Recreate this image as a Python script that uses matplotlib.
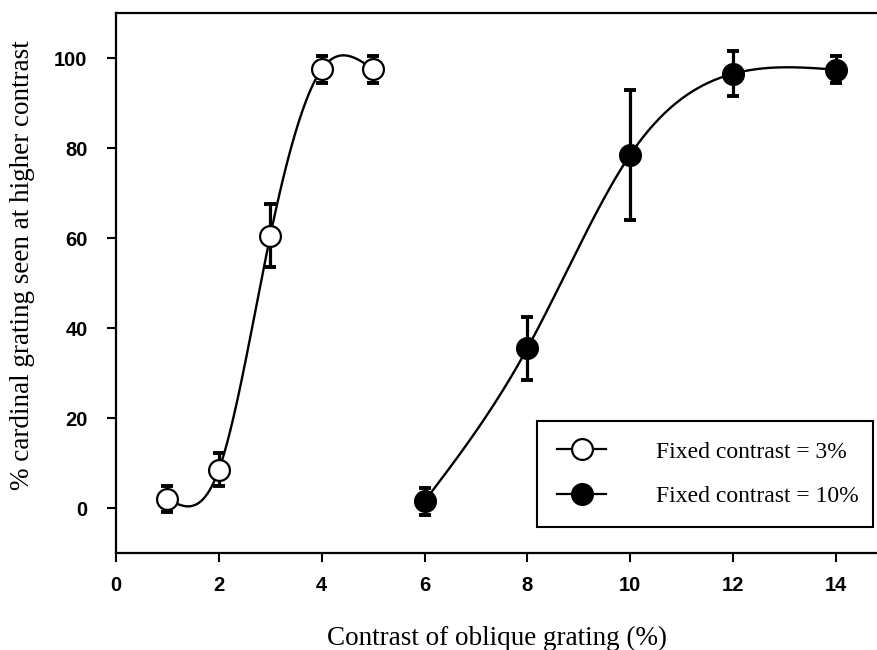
import numpy as np
import matplotlib.pyplot as plt
from matplotlib.lines import Line2D

# Data
x_low = [1, 2, 3, 4, 5]
y_low = [2.0, 8.5, 60.5, 97.5, 97.5]
err_low = [2.8, 3.7, 7.0, 3.0, 3.0]

x_high = [6, 8, 10, 12, 14]
y_high = [1.5, 35.5, 78.5, 96.5, 97.4]
err_high = [3.0, 7.0, 14.5, 5.0, 3.0]

labels = ["Fixed contrast = 3%", "Fixed contrast = 10%"]
x_ticks = [0, 2, 4, 6, 8, 10, 12, 14]
y_ticks = [0, 20, 40, 60, 80, 100]


def natural_spline(x, y, n=300):
    # smooth curve through the points, like the plotting package's spline
    x = np.asarray(x, float)
    y = np.asarray(y, float)
    k = len(x)
    h = np.diff(x)
    A = np.zeros((k, k))
    b = np.zeros(k)
    A[0, 0] = A[-1, -1] = 1
    for i in range(1, k - 1):
        A[i, i - 1] = h[i - 1]
        A[i, i] = 2 * (h[i - 1] + h[i])
        A[i, i + 1] = h[i]
        b[i] = 6 * ((y[i + 1] - y[i]) / h[i] - (y[i] - y[i - 1]) / h[i - 1])
    m = np.linalg.solve(A, b)
    xs = np.linspace(x[0], x[-1], n)
    idx = np.clip(np.searchsorted(x, xs) - 1, 0, k - 2)
    x0, x1 = x[idx], x[idx + 1]
    hh = x1 - x0
    t0 = x1 - xs
    t1 = xs - x0
    ys = (m[idx] * t0**3 / (6 * hh) + m[idx + 1] * t1**3 / (6 * hh)
          + (y[idx] / hh - m[idx] * hh / 6) * t0
          + (y[idx + 1] / hh - m[idx + 1] * hh / 6) * t1)
    return xs, ys


fig = plt.figure(figsize=(8.77, 6.5), dpi=100)
ax = fig.add_axes([0.1323, 0.1492, 0.8677, 0.8308])

for xs, ys, es, face in [(x_low, y_low, err_low, "white"),
                         (x_high, y_high, err_high, "black")]:
    cx, cy = natural_spline(xs, ys)
    ax.plot(cx, cy, color="black", lw=1.7, zorder=2)
    ax.errorbar(xs, ys, yerr=es, fmt="none", ecolor="black", elinewidth=2.3,
                capsize=4, capthick=2.8, zorder=3)
    ax.plot(xs, ys, "o", ms=15, mfc=face, mec="black", mew=1.6, zorder=4)

ax.set_xlim(0, 14.8)
ax.set_ylim(-10, 110)
ax.set_xticks(x_ticks)
ax.set_yticks(y_ticks)
ax.spines["right"].set_visible(False)
for s in ["left", "top", "bottom"]:
    ax.spines[s].set_linewidth(1.6)
ax.tick_params(direction="out", length=6.5, width=1.5)
ax.tick_params(axis="x", pad=10)
ax.tick_params(axis="y", pad=14)
for lab in ax.get_xticklabels() + ax.get_yticklabels():
    lab.set_fontfamily("Liberation Sans")
    lab.set_fontweight("bold")
    lab.set_fontsize(14.5)

ax.set_xlabel("Contrast of oblique grating (%)", family="Liberation Serif",
              fontsize=19.5, labelpad=22)
ax.set_ylabel("% cardinal grating seen at higher contrast",
              family="Liberation Serif", fontsize=19.5)
ax.yaxis.set_label_coords(-0.106, 0.533)

handles = [
    Line2D([], [], color="black", lw=1.6, marker="o", ms=15, mfc="white",
           mec="black", mew=1.6),
    Line2D([], [], color="black", lw=1.6, marker="o", ms=15, mfc="black",
           mec="black", mew=1.6),
]
leg = ax.legend(handles, labels, loc="lower left",
                bbox_to_anchor=(0.553, 0.048, 0.4415, 0.193), mode="expand",
                prop={"family": "Liberation Serif", "size": 17},
                fancybox=False, edgecolor="black", framealpha=1,
                handlelength=2.1, handletextpad=2.1, labelspacing=0.97,
                borderpad=0.85, borderaxespad=0)
leg.get_frame().set_linewidth(1.5)

fig.savefig("out.png", dpi=100)
